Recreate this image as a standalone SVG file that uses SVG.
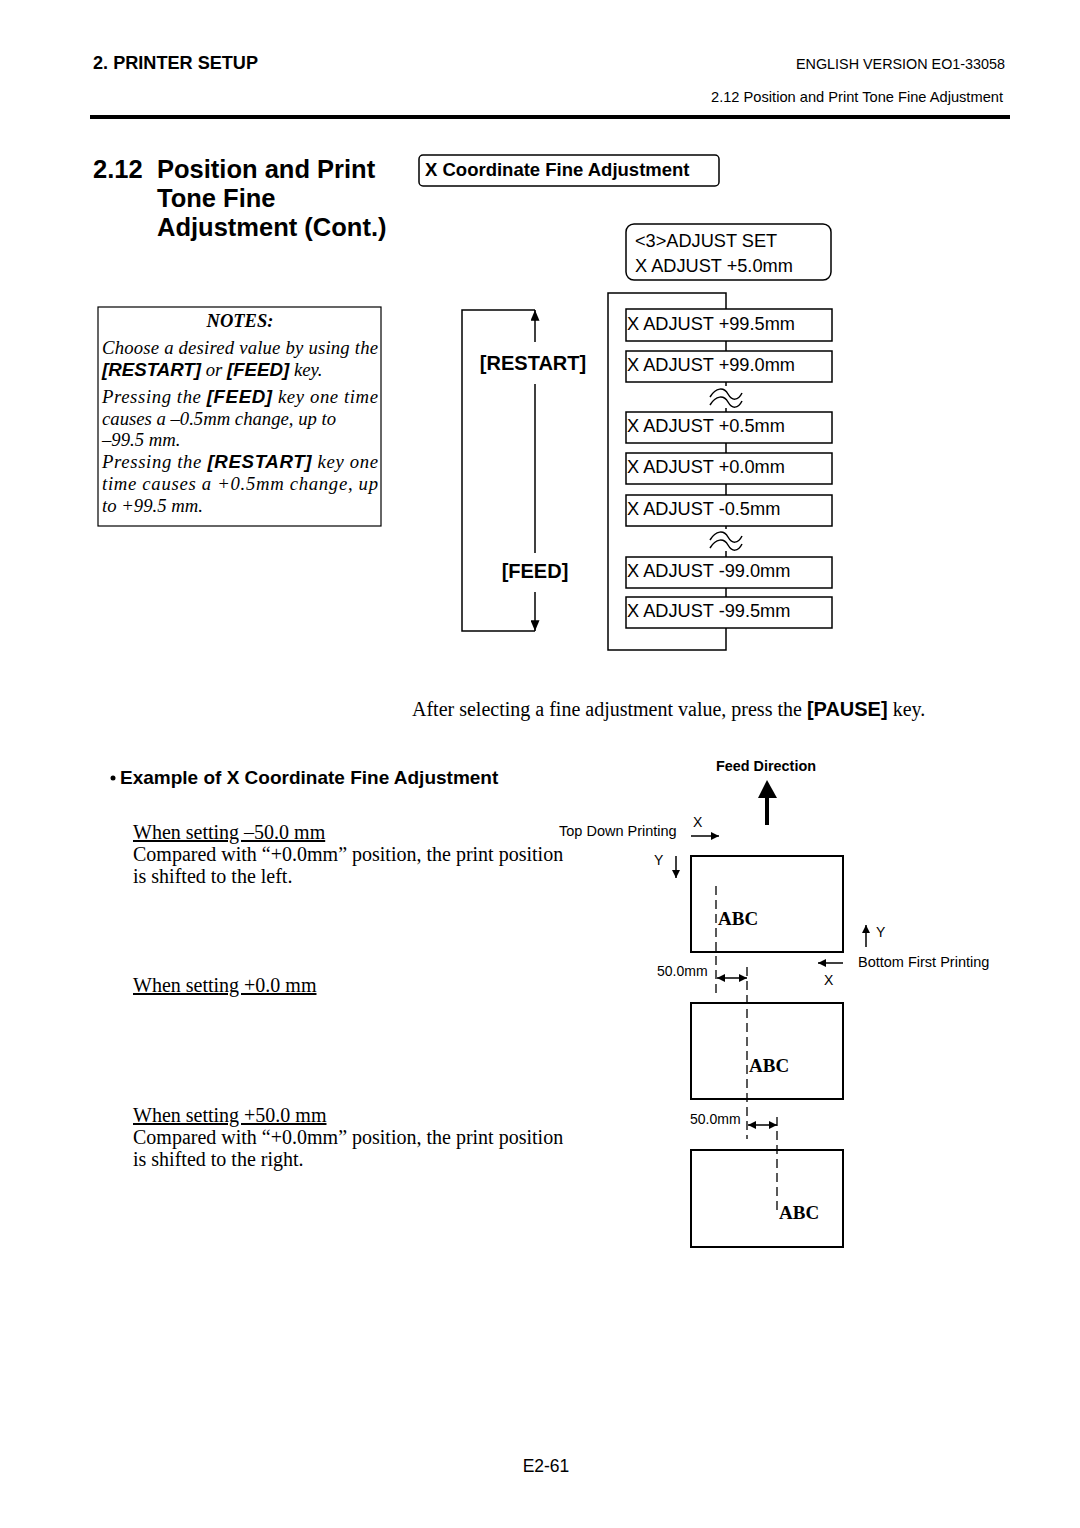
<svg xmlns="http://www.w3.org/2000/svg" width="1080" height="1528" viewBox="0 0 1080 1528">
<style>
.s{font-family:"Liberation Sans",Arial,sans-serif}
.sb{font-family:"Liberation Sans",Arial,sans-serif;font-weight:bold}
.t{font-family:"Liberation Serif","Times New Roman",serif}
.ti{font-family:"Liberation Serif","Times New Roman",serif;font-style:italic}
.bi{font-family:"Liberation Sans",Arial,sans-serif;font-weight:bold;font-style:italic}
.box{fill:#fff;stroke:#000;stroke-width:1.5}
.ln{fill:none;stroke:#000;stroke-width:1.5}
.dash{fill:none;stroke:#000;stroke-width:1.3;stroke-dasharray:9,5}
</style>
<defs>
<marker id="ah" viewBox="0 0 10 10" refX="10" refY="5" markerWidth="8" markerHeight="8" markerUnits="userSpaceOnUse" orient="auto-start-reverse"><path d="M0,0 L10,5 L0,10 z" fill="#000"/></marker>
<marker id="ah2" viewBox="0 0 12 10" refX="12" refY="5" markerWidth="12" markerHeight="9" markerUnits="userSpaceOnUse" orient="auto-start-reverse"><path d="M0,0 L12,5 L0,10 z" fill="#000"/></marker>
</defs>
<rect width="1080" height="1528" fill="#fff"/>

<g id="header">
<text class="sb" x="93" y="69" font-size="17.5" textLength="165" lengthAdjust="spacingAndGlyphs">2. PRINTER SETUP</text>
<text class="s" x="1005" y="69" font-size="14.5" text-anchor="end" textLength="209" lengthAdjust="spacingAndGlyphs">ENGLISH VERSION EO1-33058</text>
<text class="s" x="1003" y="102" font-size="14.5" text-anchor="end" textLength="292" lengthAdjust="spacingAndGlyphs">2.12 Position and Print Tone Fine Adjustment</text>
<rect x="90" y="115" width="920" height="4" fill="#000"/>
</g>

<g id="title">
<text class="sb" font-size="25.5"><tspan x="93" y="178">2.12</tspan><tspan x="157" y="178">Position and Print</tspan><tspan x="157" y="207">Tone Fine</tspan><tspan x="157" y="236">Adjustment (Cont.)</tspan></text>
</g>

<g id="xcoord-heading">
<rect class="box" x="419" y="155" width="300" height="31" rx="4"/>
<text class="sb" x="425" y="176" font-size="18.5">X Coordinate Fine Adjustment</text>
</g>

<g id="notes">
<rect x="98" y="307" width="283" height="219" fill="#fff" stroke="#000" stroke-width="1.2"/>
<text class="t" x="240" y="327" font-size="18.5" font-weight="bold" font-style="italic" text-anchor="middle">NOTES:</text>
<text class="ti" x="102" y="354" font-size="18.7" textLength="276" lengthAdjust="spacing">Choose a desired value by using the</text>
<text class="ti" x="102" y="376" font-size="18.7"><tspan class="bi">[RESTART]</tspan> or <tspan class="bi">[FEED]</tspan> key.</text>
<text class="ti" x="102" y="403" font-size="18.7" textLength="276" lengthAdjust="spacing">Pressing the <tspan class="bi">[FEED]</tspan> key one time</text>
<text class="ti" x="102" y="425" font-size="18.7">causes a –0.5mm change, up to</text>
<text class="ti" x="102" y="446" font-size="18.7">–99.5 mm.</text>
<text class="ti" x="102" y="468" font-size="18.7" textLength="276" lengthAdjust="spacing">Pressing the <tspan class="bi">[RESTART]</tspan> key one</text>
<text class="ti" x="102" y="490" font-size="18.7" textLength="276" lengthAdjust="spacing">time causes a +0.5mm change, up</text>
<text class="ti" x="102" y="512" font-size="18.7">to +99.5 mm.</text>
</g>

<g id="connectors">
<path class="ln" d="M726,293 H608 V650 H726 Z"/>
<path class="ln" d="M535,310 H462 V631 H535"/>
<line class="ln" x1="535" y1="342" x2="535" y2="310" marker-end="url(#ah2)"/>
<line class="ln" x1="535" y1="384" x2="535" y2="553"/>
<line class="ln" x1="535" y1="592" x2="535" y2="631" marker-end="url(#ah2)"/>
</g>

<g id="wave1">
<rect x="706" y="386" width="40" height="22" fill="#fff"/>
<path class="ln" d="M710,397 C716,387 724,387 728,394 C732,401 738,401 742,393"/>
<path class="ln" d="M710,405 C716,395 724,395 728,402 C732,409 738,409 742,401"/>
</g>
<g id="wave2">
<rect x="706" y="529" width="40" height="22" fill="#fff"/>
<path class="ln" d="M710,540 C716,530 724,530 728,537 C732,544 738,544 742,536"/>
<path class="ln" d="M710,548 C716,538 724,538 728,545 C732,552 738,552 742,544"/>
</g>

<g id="key-labels">
<text class="sb" x="533" y="370" font-size="20" text-anchor="middle">[RESTART]</text>
<text class="sb" x="535" y="578" font-size="20" text-anchor="middle">[FEED]</text>
</g>

<g id="adjust-set">
<rect class="box" x="626" y="224" width="205" height="56" rx="8"/>
<text class="s" font-size="18.2"><tspan x="635" y="247">&lt;3&gt;ADJUST SET</tspan><tspan x="635" y="272">X ADJUST +5.0mm</tspan></text>
</g>

<g id="v1"><rect class="box" x="626" y="309" width="206" height="32"/><text class="s" x="627" y="330" font-size="18.2">X ADJUST +99.5mm</text></g>
<g id="v2"><rect class="box" x="626" y="351" width="206" height="31"/><text class="s" x="627" y="371" font-size="18.2">X ADJUST +99.0mm</text></g>
<g id="v3"><rect class="box" x="626" y="412" width="206" height="31"/><text class="s" x="627" y="432" font-size="18.2">X ADJUST +0.5mm</text></g>
<g id="v4"><rect class="box" x="626" y="453" width="206" height="31"/><text class="s" x="627" y="473" font-size="18.2">X ADJUST +0.0mm</text></g>
<g id="v5"><rect class="box" x="626" y="495" width="206" height="31"/><text class="s" x="627" y="515" font-size="18.2">X ADJUST -0.5mm</text></g>
<g id="v6"><rect class="box" x="626" y="557" width="206" height="31"/><text class="s" x="627" y="577" font-size="18.2">X ADJUST -99.0mm</text></g>
<g id="v7"><rect class="box" x="626" y="597" width="206" height="31"/><text class="s" x="627" y="617" font-size="18.2">X ADJUST -99.5mm</text></g>

<g id="pause-note">
<text class="t" x="412" y="716" font-size="20">After selecting a fine adjustment value, press the <tspan class="sb">[PAUSE]</tspan> key.</text>
</g>

<g id="example-text">
<circle cx="113" cy="778" r="2.5" fill="#000"/>
<text class="sb" x="120" y="784" font-size="19">Example of X Coordinate Fine Adjustment</text>
<text class="t" font-size="20">
<tspan x="133" y="839" text-decoration="underline">When setting –50.0 mm</tspan>
<tspan x="133" y="861">Compared with “+0.0mm” position, the print position</tspan>
<tspan x="133" y="883">is shifted to the left.</tspan>
<tspan x="133" y="992" text-decoration="underline">When setting +0.0 mm</tspan>
<tspan x="133" y="1122" text-decoration="underline">When setting +50.0 mm</tspan>
<tspan x="133" y="1144">Compared with “+0.0mm” position, the print position</tspan>
<tspan x="133" y="1166">is shifted to the right.</tspan>
</text>
</g>

<g id="feed-direction">
<text class="sb" x="766" y="771" font-size="14.4" text-anchor="middle">Feed Direction</text>
<rect x="765" y="796" width="4" height="29" fill="#000"/>
<path d="M758,798 L767,780 L777,798 Z" fill="#000"/>
</g>

<g id="axes">
<text class="s" x="559" y="836" font-size="14.5">Top Down Printing</text>
<text class="s" x="693" y="827" font-size="14">X</text>
<line class="ln" x1="691" y1="836" x2="719" y2="836" stroke-width="1.3" marker-end="url(#ah)"/>
<text class="s" x="654" y="865" font-size="14">Y</text>
<line class="ln" x1="676" y1="856" x2="676" y2="878" stroke-width="1.3" marker-end="url(#ah)"/>
<line class="ln" x1="866" y1="947" x2="866" y2="925" stroke-width="1.3" marker-end="url(#ah)"/>
<text class="s" x="876" y="937" font-size="14">Y</text>
<text class="s" x="858" y="967" font-size="14.5">Bottom First Printing</text>
<line class="ln" x1="843" y1="963" x2="818" y2="963" stroke-width="1.3" marker-end="url(#ah)"/>
<text class="s" x="824" y="985" font-size="14">X</text>
</g>

<g id="label1">
<rect x="691" y="856" width="152" height="96" fill="none" stroke="#000" stroke-width="2"/>
<line class="dash" x1="716" y1="886" x2="716" y2="996"/>
<text class="t" x="718" y="925" font-size="19" font-weight="bold">ABC</text>
<text class="s" x="657" y="976" font-size="14">50.0mm</text>
<line class="ln" x1="717" y1="978" x2="747" y2="978" marker-start="url(#ah)" marker-end="url(#ah)"/>
</g>

<g id="label2">
<rect x="691" y="1003" width="152" height="96" fill="none" stroke="#000" stroke-width="2"/>
<line class="dash" x1="747" y1="967" x2="747" y2="1139"/>
<text class="t" x="749" y="1072" font-size="19" font-weight="bold">ABC</text>
<text class="s" x="690" y="1124" font-size="14">50.0mm</text>
<line class="ln" x1="748" y1="1125" x2="777" y2="1125" marker-start="url(#ah)" marker-end="url(#ah)"/>
</g>

<g id="label3">
<rect x="691" y="1150" width="152" height="97" fill="none" stroke="#000" stroke-width="2"/>
<line class="dash" x1="777" y1="1117" x2="777" y2="1212"/>
<text class="t" x="779" y="1219" font-size="19" font-weight="bold">ABC</text>
</g>

<g id="footer">
<text class="s" x="546" y="1472" font-size="17.5" text-anchor="middle">E2-61</text>
</g>
</svg>
